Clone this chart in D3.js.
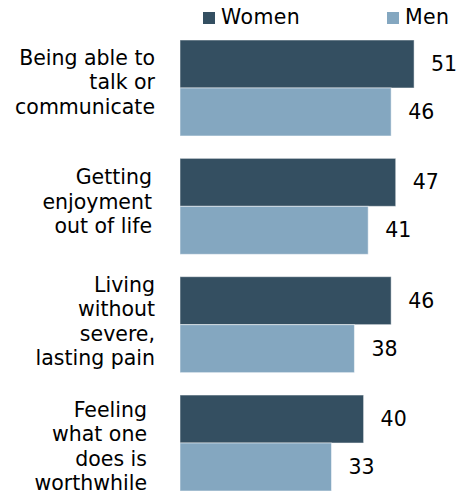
<!DOCTYPE html>
<html>
<head>
<meta charset="utf-8">
<script src="https://cdn.jsdelivr.net/npm/d3@7"></script>
<style>
  body { margin: 0; background: #fff; }
  svg { display: block; font-family: "DejaVu Sans", Verdana, sans-serif; }
</style>
</head>
<body>
<svg id="chart" width="458" height="496"></svg>
<script>
const categories = [
  ["Being able to", "talk or", "communicate"],
  ["Getting", "enjoyment", "out of life"],
  ["Living", "without", "severe,", "lasting pain"],
  ["Feeling", "what one", "does is", "worthwhile"]
];
const seriesNames = ["Women", "Men"];
const women = [51, 47, 46, 40];
const men = [46, 41, 38, 33];
const colors = ["#344f61", "#84a7c0"];

// layout tweaks for the wrapped category labels (right edge and vertical nudge)
const labelRight = [155, 152, 155, 147];
const labelNudge = [-6, -5, -3.5, 3.5];

const svg = d3.select("#chart");
const left = 180;
const x = d3.scaleLinear().domain([0, 60]).range([left, left + 60 * 4.59]);
const y = d3.scaleBand().domain(d3.range(categories.length)).range([40, 491]).paddingInner(0.189).paddingOuter(0);
const sub = d3.scaleBand().domain(seriesNames).range([0, y.bandwidth()]);

const data = categories.map((c, i) => ({ i, values: [women[i], men[i]] }));
const FS = 20.5;

const groups = svg.selectAll("g.grp").data(data).join("g")
  .attr("class", "grp")
  .attr("transform", d => `translate(0,${y(d.i)})`);

groups.selectAll("rect").data(d => d.values.map((v, k) => ({ v, k }))).join("rect")
  .attr("x", x(0))
  .attr("y", d => sub(seriesNames[d.k]))
  .attr("width", d => x(d.v) - x(0))
  .attr("height", sub.bandwidth())
  .attr("fill", d => colors[d.k])
  .attr("stroke", "#ffffff")
  .attr("stroke-opacity", 0.5)
  .attr("stroke-width", 1);

groups.selectAll("text.val").data(d => d.values.map((v, k) => ({ v, k }))).join("text")
  .attr("class", "val")
  .attr("x", d => x(d.v) + 17)
  .attr("y", d => sub(seriesNames[d.k]) + sub.bandwidth() / 2)
  .attr("dy", "0.35em")
  .attr("font-size", FS)
  .attr("fill", "#000")
  .text(d => d.v);

// category labels
const lineH = 24.4;
svg.selectAll("text.cat").data(categories).join("text")
  .attr("class", "cat")
  .attr("text-anchor", "end")
  .attr("font-size", FS)
  .attr("fill", "#000")
  .each(function (lines, i) {
    const cy = y(i) + y.bandwidth() / 2 + labelNudge[i];
    const top = cy - (lines.length - 1) * lineH / 2;
    d3.select(this).selectAll("tspan").data(lines).join("tspan")
      .attr("x", labelRight[i])
      .attr("y", (l, j) => top + j * lineH)
      .attr("dy", "0.35em")
      .text(l => l);
  });

// legend
const legendX = [203, 387];
const leg = svg.selectAll("g.leg").data(seriesNames).join("g")
  .attr("class", "leg")
  .attr("transform", (d, i) => `translate(${legendX[i]},0)`);
leg.append("rect").attr("x", 0).attr("y", 12).attr("width", 12).attr("height", 12)
  .attr("fill", (d, i) => colors[i]);
leg.append("text").attr("x", 18).attr("y", 24).attr("font-size", FS).attr("fill", "#000")
  .attr("letter-spacing", 0.4)
  .text(d => d);
</script>
</body>
</html>
